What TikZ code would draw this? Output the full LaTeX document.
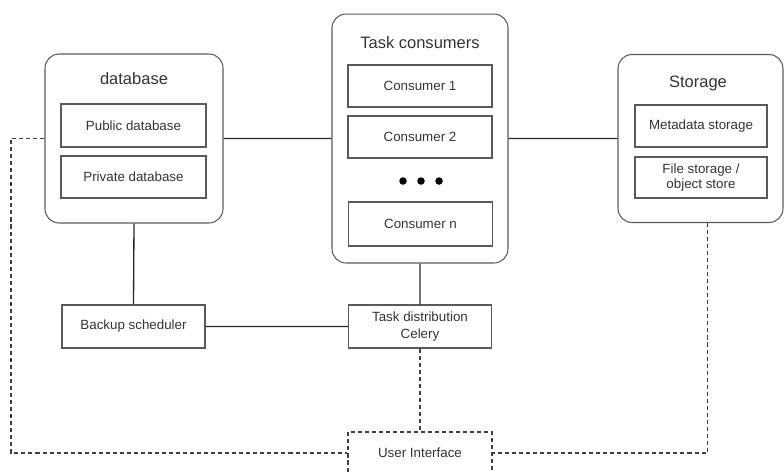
\documentclass[tikz,border=0pt]{standalone}
\usepackage{fontspec}
\setmainfont{Liberation Sans}
\usepackage{tikz}

\definecolor{txt}{HTML}{333333}
\definecolor{edge}{HTML}{5A5A5A}
\tikzset{
  grp/.style={draw=edge, line width=0.6pt, rounded corners=0.28cm, minimum width=#1},
  item/.style={draw=edge, line width=0.6pt, text=txt, align=center, minimum width=2.88cm, minimum height=0.86cm, inner sep=1pt, font=\fontsize{7.6}{8.8}\selectfont},
  ttl/.style={text=txt, font=\fontsize{9.4}{11}\selectfont},
  link/.style={line width=0.75pt, draw=black!85},
  ulink/.style={line width=0.75pt, draw=black!75, dash pattern=on 2.3pt off 1.7pt}
}

\begin{document}
\begin{tikzpicture}[x=0.02cm, y=-0.02cm]
      \clip (0,0) rectangle (784,471);
      %%%%%%%%%%%%%%%%%%%%%%%%%%%%%%%%%%%%%%%%%%%%%%%
      \node[grp=3.56cm, minimum height=3.38cm] at (134,138.5) (db) {};
      \node[ttl] at (134,79) (dbt) {database};
      \node[item, minimum width=2.9cm] at (133.5,125.5) (db1) {Public database};
      \node[item, minimum width=2.9cm, minimum height=0.84cm] at (133.5,177) (db2) {Private database};
      %%%%%%%%%%%%%%%%%%%%%%%%%%%%%%%%%%%%%%%%%%%%%%%
      \node[grp=3.52cm, minimum height=4.98cm] at (420,138.5) (tc) {};
      \node[ttl] at (420,43) (tct) {Task consumers};
      \node[item, minimum height=0.84cm] at (420,86)  (c1) {Consumer 1};
      \node[item, minimum height=0.84cm] at (420,137) (c2) {Consumer 2};
      \node[item, minimum height=0.88cm] at (420.5,224) (cn) {Consumer n};
      \foreach \x in {403,421,439}
        \fill[black] (\x,181) circle (0.075cm);
      %%%%%%%%%%%%%%%%%%%%%%%%%%%%%%%%%%%%%%%%%%%%%%%
      \node[grp=3.3cm, minimum height=3.36cm] at (700.5,138.5) (st) {};
      \node[ttl] at (698,83) (stt) {Storage};
      \node[item, minimum width=2.64cm, minimum height=0.84cm] at (701,126) (st1) {Metadata storage};
      \node[item, minimum width=2.64cm, minimum height=0.82cm] at (701,177.5) (st2) {File storage /\\object store};
      %%%%%%%%%%%%%%%%%%%%%%%%%%%%%%%%%%%%%%%%%%%%%%%
      \node[item, minimum width=2.86cm] at (133.5,326.5) (bs) {Backup scheduler};
      \node[item, minimum width=2.86cm] at (420,326.5) (td) {Task distribution\\[1pt]Celery};
      \node[item, draw=black!75, dash pattern=on 2.3pt off 1.7pt, line width=0.75pt, minimum height=0.84cm] at (420,453) (ui) {User Interface};
      \coordinate (l) at (11,138.5);
      %%%%%%%%%%%%%%%%%%%%%%%%%%%%%%%%%%%%%%%%%%%%%%%
      \draw[link] (db.east) -- (tc.west)
            (tc.east) -- (st.west)
            (db.south) -- (bs.north)
            (tc.south) -- (td.north)
            (bs.east) -- (td.west);
      \draw[ulink] (td.south) -- (ui.north);
      \draw[ulink] (db.west) -- (l) |- (ui.west);
      \draw[ulink] ([xshift=0.14cm]st.south) |- (ui.east);
    \end{tikzpicture}
\end{document}
